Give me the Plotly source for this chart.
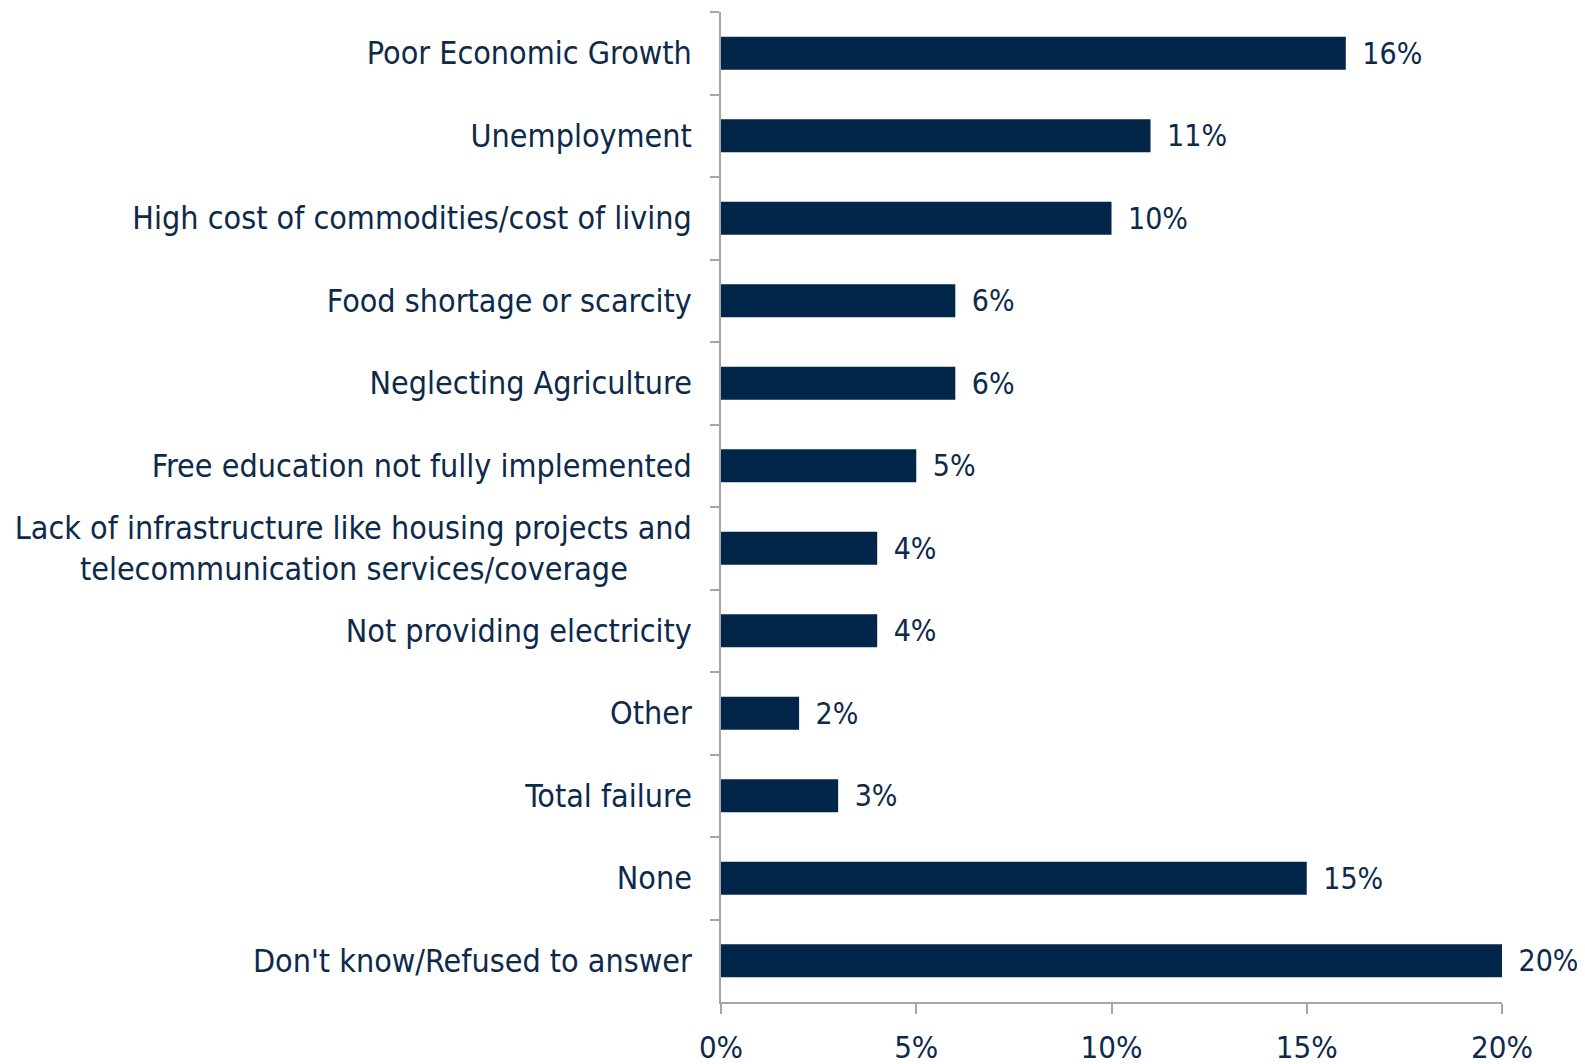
import plotly.graph_objects as go

categories = [
    "Poor Economic Growth",
    "Unemployment",
    "High cost of commodities/cost of living",
    "Food shortage or scarcity",
    "Neglecting Agriculture",
    "Free education not fully implemented",
    "Lack of infrastructure like housing projects and<br>telecommunication services/coverage" + "\u00a0" * 7,
    "Not providing electricity",
    "Other",
    "Total failure",
    "None",
    "Don't know/Refused to answer",
]
values = [16, 11, 10, 6, 6, 5, 4, 4, 2, 3, 15, 20]
x_ticks = [0, 5, 10, 15, 20]
x_tick_labels = ["0%", "5%", "10%", "15%", "20%"]

NAVY = "#02254A"
TEXT = "#0E2A4B"
GREY = "#A6A6A6"
FONT = "DejaVu Sans Condensed, DejaVu Sans, sans-serif"

fig = go.Figure(
    go.Bar(
        x=values,
        y=categories,
        orientation="h",
        marker=dict(color=NAVY, line=dict(width=0)),
        text=[f"\u2002{v}%" for v in values],
        textposition="outside",
        constraintext="none",
        textfont=dict(family=FONT, size=30, color=TEXT),
        cliponaxis=False,
        width=0.4,
    )
)

# page body has an 8px margin, so the figure is 8px smaller and offset
fig.update_layout(
    width=1577,
    height=1056,
    margin=dict(l=713, r=83, t=4, b=62),
    plot_bgcolor="white",
    paper_bgcolor="white",
    showlegend=False,
    font=dict(family=FONT, size=32, color=TEXT),
)

fig.update_xaxes(
    automargin=False,
    range=[0, 20],
    tickvals=x_ticks,
    ticktext=x_tick_labels,
    showgrid=False,
    zeroline=False,
    showline=True,
    linecolor=GREY,
    linewidth=1.5,
    ticks="outside",
    ticklen=10,
    tickcolor=GREY,
    tickwidth=1.5,
    tickfont=dict(family=FONT, size=31, color=TEXT),
    ticklabelstandoff=7,
)

fig.update_yaxes(
    automargin=False,
    autorange="reversed",
    showgrid=False,
    zeroline=False,
    showline=True,
    linecolor=GREY,
    linewidth=1.5,
    ticks="outside",
    tickson="boundaries",
    ticklen=9,
    tickcolor=GREY,
    tickwidth=1.5,
    tickfont=dict(family=FONT, size=32, color=TEXT),
    ticklabelstandoff=21,
)

fig.write_html("out.html")
